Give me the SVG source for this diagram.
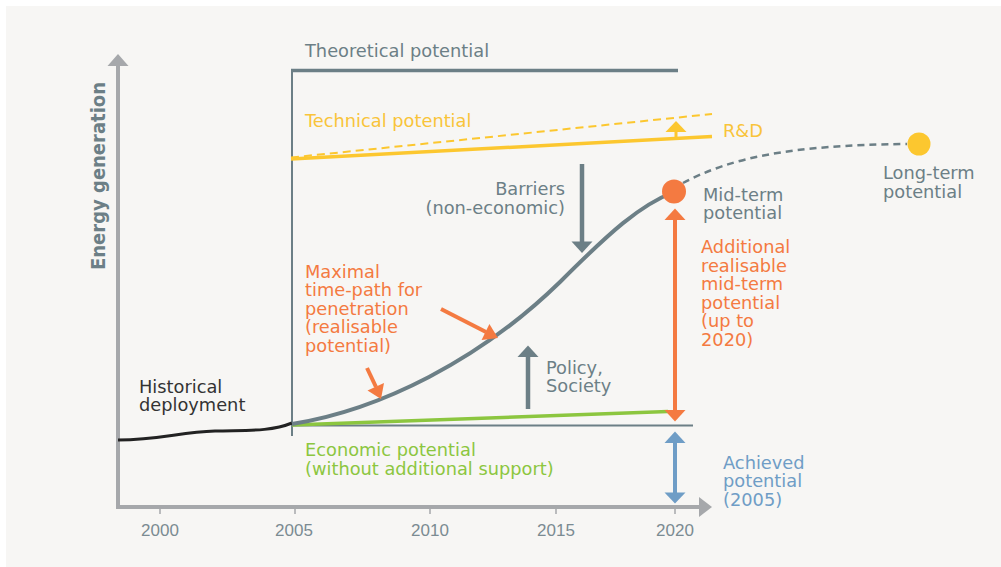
<svg xmlns="http://www.w3.org/2000/svg" width="1001" height="567" viewBox="0 0 1001 567">
<style>
text{font-family:"DejaVu Sans","Liberation Sans",sans-serif;font-size:17.8px}
.g{fill:#6c7f86}.y{fill:#f9c43a}.o{fill:#f47a41}.gr{fill:#8cc63f}.b{fill:#6f9dc6}.k{fill:#333}
.yr{font-family:"Liberation Sans",Arial,sans-serif;font-size:17px;fill:#7b8b92;text-anchor:middle}
.ax{stroke:#a6a8ab;stroke-width:4;fill:none}
.tk{stroke:#a6a8ab;stroke-width:1.5}
</style>
<rect x="6" y="6" width="995" height="561" fill="#f7f6f4"/>

<g id="axes">
<path class="ax" d="M118,64 V507 H700"/>
<polygon points="118,54 107.5,66 128.5,66" fill="#a6a8ab"/>
<polygon points="712,507 699,497 699,517" fill="#a6a8ab"/>
<path class="tk" d="M160,507v7M295,507v7M430,507v7M556,507v7M675,507v7"/>
<text class="yr" x="160" y="536">2000</text>
<text class="yr" x="294" y="536">2005</text>
<text class="yr" x="430" y="536">2010</text>
<text class="yr" x="556" y="536">2015</text>
<text class="yr" x="675" y="536">2020</text>
<text transform="translate(105,176) rotate(-90)" text-anchor="middle" font-weight="bold" style="font-size:19px" textLength="188" lengthAdjust="spacingAndGlyphs" class="g">Energy generation</text>
</g>

<g id="theoretical">
<path d="M291,70.5 H678" stroke="#6c7f86" stroke-width="3.5" fill="none"/>
<path d="M292,69 V436" stroke="#6c7f86" stroke-width="2" fill="none"/>
<text class="g" x="305" y="57">Theoretical potential</text>
</g>

<g id="technical">
<path d="M291,157.5 L712,114" stroke="#fcc72f" stroke-width="2" stroke-dasharray="8,5" fill="none"/>
<path d="M291,159 L712,136.5" stroke="#fcc72f" stroke-width="3.5" fill="none"/>
<text class="y" x="305" y="127">Technical potential</text>
</g>

<g id="rd">
<path d="M676,138 V131" stroke="#fcc72f" stroke-width="3" fill="none"/>
<polygon points="676,121 665.5,132 686.5,132" fill="#fcc72f"/>
<text class="y" x="723" y="137">R&amp;D</text>
</g>

<g id="economic">
<path d="M292,425.5 H693" stroke="#6c7f86" stroke-width="2" fill="none"/>
<path d="M292,425 L668,411.5" stroke="#8cc63f" stroke-width="3.5" fill="none"/>
<text class="gr" x="305" y="456">Economic potential</text>
<text class="gr" x="305" y="474.5">(without additional support)</text>
</g>

<g id="historical">
<path d="M118,440 C160,440 180,432 215,431 C245,430 270,432 292,423" stroke="#222" stroke-width="3" fill="none"/>
<text class="k" x="139" y="392.5">Historical</text>
<text class="k" x="139" y="411">deployment</text>
</g>

<g id="connectors">
<path d="M292,424 C380,410 480,360 560,282 C610,232 640,205 674,192" stroke="#6c7f86" stroke-width="4" fill="none"/>
<path d="M683,183 C730,158 790,145 907,144" stroke="#6c7f86" stroke-width="2.5" stroke-dasharray="7,5" fill="none"/>
<path d="M582,164 V243" stroke="#6c7f86" stroke-width="4.5" fill="none"/>
<polygon points="582,253 571.5,241.5 592.5,241.5" fill="#6c7f86"/>
<path d="M528,409 V356" stroke="#6c7f86" stroke-width="4.5" fill="none"/>
<polygon points="528,345.5 517.5,357 538.5,357" fill="#6c7f86"/>
<path d="M441,309 L486,332" stroke="#f47a41" stroke-width="4" fill="none"/>
<polygon points="498,338 481.6,340 489.4,324" fill="#f47a41"/>
<path d="M367,368 L376,387" stroke="#f47a41" stroke-width="4" fill="none"/>
<polygon points="381,399 367.5,390.5 384,383" fill="#f47a41"/>
<path d="M675,219 V411" stroke="#f47a41" stroke-width="4" fill="none"/>
<polygon points="675,208.5 664.5,220 685.5,220" fill="#f47a41"/>
<polygon points="675,421.5 664.5,410 685.5,410" fill="#f47a41"/>
<path d="M675,442 V494" stroke="#6f9dc6" stroke-width="4" fill="none"/>
<polygon points="675,431.5 664.5,443 685.5,443" fill="#6f9dc6"/>
<polygon points="675,503.5 664.5,492.5 685.5,492.5" fill="#6f9dc6"/>
</g>

<g id="maximal">
<text class="o" x="305" y="277.5">Maximal</text>
<text class="o" x="305" y="296">time-path for</text>
<text class="o" x="305" y="314.5">penetration</text>
<text class="o" x="305" y="333">(realisable</text>
<text class="o" x="305" y="351.5">potential)</text>
</g>

<g id="barriers">
<text class="g" x="565" y="195" text-anchor="end">Barriers</text>
<text class="g" x="565" y="213.5" text-anchor="end">(non-economic)</text>
</g>

<g id="policy">
<text class="g" x="546" y="374">Policy,</text>
<text class="g" x="546" y="392">Society</text>
</g>

<g id="midterm">
<circle cx="674" cy="191.5" r="12" fill="#f47a41"/>
<text class="g" x="703" y="201">Mid-term</text>
<text class="g" x="703" y="219">potential</text>
</g>

<g id="longterm">
<circle cx="919" cy="144" r="11.5" fill="#fcc72f"/>
<text class="g" x="883" y="179">Long-term</text>
<text class="g" x="883" y="197.5">potential</text>
</g>

<g id="additional">
<text class="o" x="701" y="253">Additional</text>
<text class="o" x="701" y="271.5">realisable</text>
<text class="o" x="701" y="290">mid-term</text>
<text class="o" x="701" y="308.5">potential</text>
<text class="o" x="701" y="327">(up to</text>
<text class="o" x="701" y="345.5">2020)</text>
</g>

<g id="achieved">
<text class="b" x="723" y="468.5">Achieved</text>
<text class="b" x="723" y="487">potential</text>
<text class="b" x="723" y="505.5">(2005)</text>
</g>
</svg>
